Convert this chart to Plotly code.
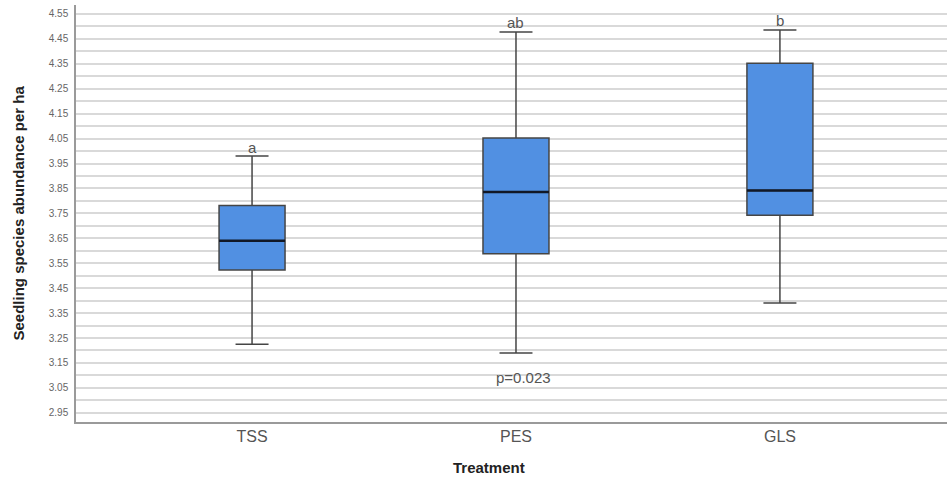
import plotly.graph_objects as go

# ---- data ----
categories = ["TSS", "PES", "GLS"]
lower_whisker = [3.225, 3.190, 3.390]
q1_values = [3.523, 3.588, 3.742]
median_values = [3.640, 3.836, 3.842]
q3_values = [3.782, 4.052, 4.352]
upper_whisker = [3.980, 4.478, 4.486]
group_letters = ["a", "ab", "b"]
p_label = "p=0.023"
p_label_y = 3.09
y_tick_values = [2.95, 3.05, 3.15, 3.25, 3.35, 3.45, 3.55, 3.65, 3.75,
                 3.85, 3.95, 4.05, 4.15, 4.25, 4.35, 4.45, 4.55]

xpos = list(range(len(categories)))
BOX_W = 0.25
FONT = "Liberation Sans, Arial, sans-serif"

fig = go.Figure()
fig.add_trace(go.Box(
    x=xpos,
    q1=q1_values, median=median_values, q3=q3_values,
    lowerfence=lower_whisker, upperfence=upper_whisker,
    width=BOX_W, whiskerwidth=0.5,
    fillcolor="#5190e2",
    line=dict(color="#454545", width=1.5),
    boxpoints=False, showlegend=False, hoverinfo="skip",
))

# darker, thicker median lines
for i, m in zip(xpos, median_values):
    fig.add_trace(go.Scatter(
        x=[i - BOX_W / 2, i + BOX_W / 2], y=[m, m], mode="lines",
        line=dict(color="#111827", width=2.5),
        showlegend=False, hoverinfo="skip",
    ))

annotations = []
for i, (u, t) in enumerate(zip(upper_whisker, group_letters)):
    annotations.append(dict(x=i, y=u, text=t, showarrow=False, yshift=9,
                            xref="x", yref="y", yanchor="middle",
                            font=dict(family=FONT, size=15, color="#555555")))
annotations.append(dict(x=1, y=p_label_y, text=p_label, showarrow=False,
                        xshift=8, xref="x", yref="y",
                        font=dict(family=FONT, size=15, color="#555555")))
annotations.append(dict(x=(489 - 76) / 871, y=0, xref="paper", yref="paper",
                        yshift=-45, yanchor="middle", xanchor="center",
                        text="<b>Treatment</b>", showarrow=False,
                        font=dict(family=FONT, size=15, color="#222222")))
annotations.append(dict(x=0, y=0.5, xref="paper", yref="paper",
                        xshift=-58, xanchor="center", yanchor="middle",
                        textangle=-90,
                        text="<b>Seedling species abundance per ha</b>",
                        showarrow=False,
                        font=dict(family=FONT, size=15, color="#222222")))

fig.update_layout(
    width=947, height=480,
    margin=dict(l=76, r=0, t=5, b=58),
    paper_bgcolor="white", plot_bgcolor="white",
    font=dict(family=FONT),
    annotations=annotations,
    xaxis=dict(
        range=[-0.667, 2.633],
        tickvals=xpos, ticktext=categories,
        tickfont=dict(family=FONT, size=16, color="#555555"),
        showgrid=False, zeroline=False,
        showline=True, linecolor="#9a9a9a", linewidth=1.5,
        ticks="", ticklabelstandoff=-1,
    ),
    yaxis=dict(
        range=[2.913, 4.586],
        tickvals=y_tick_values, tickformat=".2f",
        tickfont=dict(family=FONT, size=10, color="#666666"),
        showgrid=True, gridcolor="#d9d9d9", gridwidth=1.5,
        minor=dict(tick0=2.95, dtick=0.05, showgrid=True,
                   gridcolor="#d9d9d9", gridwidth=1.5),
        zeroline=False,
        showline=True, linecolor="#9a9a9a", linewidth=1.5,
        ticks="", ticklabelstandoff=4,
    ),
)

fig.write_html("out.html",
               config={"displayModeBar": False},
               post_script="document.body.style.margin='0px';"
                           "document.body.style.overflow='hidden';")
